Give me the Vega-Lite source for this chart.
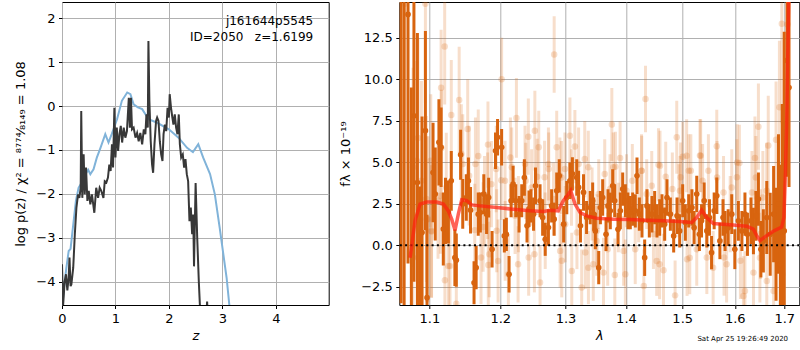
{
  "$schema": "https://vega.github.io/schema/vega-lite/v6.json",
  "background": "white",
  "padding": {"left": 14, "top": 1, "right": 0, "bottom": 0},
  "spacing": 70.3,
  "bounds": "flush",
  "config": {
    "font": "DejaVu Sans",
    "view": {"stroke": "black", "strokeWidth": 1},
    "axis": {"labelFont": "DejaVu Sans", "labelFontSize": 13, "labelColor": "black", "tickColor": "black", "tickSize": 3.5, "labelPadding": 3.5, "domain": false, "gridColor": "#b0b0b0", "gridWidth": 1, "titleFont": "DejaVu Sans", "titleFontSize": 13, "titleFontWeight": "normal", "titleColor": "black", "labelFlush": false}
  },
  "datasets": {
    "prior": [
      {"z":0.00,"lp":-4.7},{"z":0.03,"lp":-4.2},{"z":0.08,"lp":-3.7},{"z":0.125,"lp":-3.30},{"z":0.16,"lp":-3.25},{"z":0.19,"lp":-2.92},{"z":0.26,"lp":-2.16},{"z":0.31,"lp":-1.86},{"z":0.37,"lp":-1.74},{"z":0.44,"lp":-1.55},{"z":0.49,"lp":-1.45},{"z":0.53,"lp":-1.55},{"z":0.59,"lp":-1.44},{"z":0.65,"lp":-1.18},{"z":0.72,"lp":-0.95},{"z":0.81,"lp":-0.64},{"z":0.87,"lp":-0.83},{"z":0.93,"lp":-0.64},{"z":1.03,"lp":-0.30},{"z":1.12,"lp":0.12},{"z":1.22,"lp":0.31},{"z":1.28,"lp":0.27},{"z":1.34,"lp":0.04},{"z":1.42,"lp":-0.03},{"z":1.50,"lp":-0.07},{"z":1.62,"lp":-0.30},{"z":1.78,"lp":-0.38},{"z":2.00,"lp":-0.53},{"z":2.18,"lp":-0.72},{"z":2.34,"lp":-0.95},{"z":2.45,"lp":-1.05},{"z":2.55,"lp":-0.87},{"z":2.64,"lp":-1.17},{"z":2.77,"lp":-1.55},{"z":2.86,"lp":-2.01},{"z":2.95,"lp":-2.77},{"z":3.01,"lp":-3.30},{"z":3.08,"lp":-3.91},{"z":3.13,"lp":-4.52},{"z":3.20,"lp":-5.1}
    ],
    "chi": [
      {"z":0.00,"lp":-3.60},{"z":0.02,"lp":-4.55},{"z":0.05,"lp":-4.00},{"z":0.075,"lp":-3.83},{"z":0.10,"lp":-4.20},{"z":0.125,"lp":-3.90},{"z":0.14,"lp":-3.45},{"z":0.16,"lp":-4.10},{"z":0.175,"lp":-4.06},{"z":0.21,"lp":-3.68},{"z":0.24,"lp":-2.92},{"z":0.27,"lp":-2.31},{"z":0.30,"lp":-2.01},{"z":0.325,"lp":-2.09},{"z":0.35,"lp":-1.86},{"z":0.36,"lp":-0.11},{"z":0.38,"lp":-2.09},{"z":0.405,"lp":-1.10},{"z":0.425,"lp":-2.01},{"z":0.45,"lp":-1.40},{"z":0.475,"lp":-2.16},{"z":0.50,"lp":-1.93},{"z":0.53,"lp":-2.24},{"z":0.56,"lp":-2.01},{"z":0.605,"lp":-2.43},{"z":0.64,"lp":-1.86},{"z":0.675,"lp":-2.09},{"z":0.705,"lp":-1.86},{"z":0.735,"lp":-1.93},{"z":0.775,"lp":-2.09},{"z":0.80,"lp":-1.71},{"z":0.83,"lp":-1.74},{"z":0.86,"lp":-1.63},{"z":0.885,"lp":-1.33},{"z":0.91,"lp":-1.48},{"z":0.935,"lp":-0.87},{"z":0.955,"lp":-1.40},{"z":0.98,"lp":-0.04},{"z":1.00,"lp":-1.17},{"z":1.025,"lp":-0.49},{"z":1.05,"lp":-1.02},{"z":1.075,"lp":-0.64},{"z":1.10,"lp":-0.45},{"z":1.125,"lp":-0.83},{"z":1.155,"lp":-0.49},{"z":1.185,"lp":-0.72},{"z":1.215,"lp":-0.57},{"z":1.25,"lp":0.19},{"z":1.27,"lp":-0.49},{"z":1.29,"lp":0.19},{"z":1.31,"lp":-0.53},{"z":1.34,"lp":-0.49},{"z":1.375,"lp":-0.72},{"z":1.405,"lp":-0.61},{"z":1.435,"lp":-0.80},{"z":1.465,"lp":-0.61},{"z":1.50,"lp":-0.87},{"z":1.53,"lp":-0.53},{"z":1.56,"lp":-0.64},{"z":1.58,"lp":-0.19},{"z":1.605,"lp":-0.49},{"z":1.617,"lp":1.48},{"z":1.635,"lp":0.12},{"z":1.66,"lp":-0.80},{"z":1.685,"lp":-1.33},{"z":1.705,"lp":-1.52},{"z":1.73,"lp":-0.87},{"z":1.76,"lp":-0.34},{"z":1.78,"lp":-0.26},{"z":1.805,"lp":-0.34},{"z":1.83,"lp":-0.80},{"z":1.855,"lp":-1.10},{"z":1.88,"lp":-1.25},{"z":1.90,"lp":-0.64},{"z":1.925,"lp":-0.42},{"z":1.95,"lp":-0.57},{"z":1.975,"lp":-0.04},{"z":2.00,"lp":-0.26},{"z":2.015,"lp":0.27},{"z":2.04,"lp":-0.04},{"z":2.065,"lp":-0.26},{"z":2.085,"lp":-0.42},{"z":2.11,"lp":-0.19},{"z":2.135,"lp":-0.49},{"z":2.16,"lp":-0.64},{"z":2.185,"lp":-0.19},{"z":2.205,"lp":-0.87},{"z":2.23,"lp":-1.17},{"z":2.26,"lp":-1.10},{"z":2.285,"lp":-1.40},{"z":2.31,"lp":-1.21},{"z":2.335,"lp":-1.55},{"z":2.36,"lp":-1.71},{"z":2.385,"lp":-2.62},{"z":2.41,"lp":-2.31},{"z":2.435,"lp":-2.92},{"z":2.455,"lp":-2.47},{"z":2.47,"lp":-3.65},{"z":2.50,"lp":-1.75},{"z":2.53,"lp":-3.0},{"z":2.56,"lp":-4.0},{"z":2.59,"lp":-4.8},{"z":2.70,"lp":-4.8},{"z":2.715,"lp":-4.45},{"z":2.73,"lp":-4.8}
    ],
    "dark": [
      {"l":1.0625,"f":16.5,"e":20},{"l":1.0665,"f":-5.0,"e":20},{"l":1.0716,"f":13.9,"e":15},{"l":1.0760,"f":-4.5,"e":14},{"l":1.0794,"f":7.8,"e":10},{"l":1.0840,"f":3.78,"e":9},{"l":1.0871,"f":-3.47,"e":7},{"l":1.0902,"f":0.76,"e":7},{"l":1.0947,"f":6.9,"e":6},{"l":1.0969,"f":-3.16,"e":5},
      {"l":1.105,"f":4.38,"e":3.0},{"l":1.108,"f":3.08,"e":2.8},{"l":1.113,"f":6.2,"e":2.6},{"l":1.116,"f":5.9,"e":2.4},{"l":1.119,"f":0.98,"e":2.2},{"l":1.122,"f":2.07,"e":2.0},{"l":1.126,"f":2.0,"e":1.9},{"l":1.130,"f":3.88,"e":1.8},{"l":1.135,"f":-0.75,"e":1.7},{"l":1.137,"f":-0.9,"e":1.6},{"l":1.143,"f":5.45,"e":1.5},{"l":1.146,"f":2.49,"e":1.5},{"l":1.151,"f":2.87,"e":1.4},{"l":1.154,"f":3.88,"e":1.4},{"l":1.157,"f":2.11,"e":1.4},{"l":1.162,"f":-2.26,"e":1.3},{"l":1.165,"f":-1.35,"e":1.3},{"l":1.168,"f":1.87,"e":1.3},{"l":1.171,"f":1.97,"e":1.2},{"l":1.176,"f":3.08,"e":1.2},{"l":1.180,"f":1.87,"e":1.2},{"l":1.183,"f":2.87,"e":1.2},{"l":1.188,"f":-0.24,"e":1.1},{"l":1.193,"f":5.69,"e":1.1},{"l":1.196,"f":6.5,"e":1.1},
      {"l":1.202,"f":5.9,"e":1.1},{"l":1.206,"f":0.56,"e":1.0},{"l":1.209,"f":0.65,"e":1.0},{"l":1.213,"f":-1.75,"e":1.1},{"l":1.216,"f":2.68,"e":1.0},{"l":1.219,"f":3.68,"e":1.1},{"l":1.223,"f":2.68,"e":1.0},{"l":1.228,"f":1.87,"e":1.1},{"l":1.232,"f":2.68,"e":1.0},{"l":1.236,"f":4.08,"e":1.1},{"l":1.240,"f":1.17,"e":1.0},{"l":1.243,"f":2.2,"e":1.1},{"l":1.246,"f":2.37,"e":1.0},{"l":1.250,"f":1.87,"e":1.0},{"l":1.253,"f":3.58,"e":1.1},{"l":1.260,"f":2.68,"e":1.0},{"l":1.264,"f":1.67,"e":1.1},{"l":1.268,"f":0.36,"e":1.0},{"l":1.273,"f":1.07,"e":1.1},{"l":1.278,"f":2.37,"e":1.0},{"l":1.282,"f":1.57,"e":1.0},{"l":1.286,"f":3.28,"e":1.1},{"l":1.290,"f":4.18,"e":1.0},{"l":1.297,"f":1.27,"e":1.1},{"l":1.302,"f":2.87,"e":1.0},{"l":1.307,"f":3.88,"e":1.1},{"l":1.311,"f":4.3,"e":1.0},{"l":1.318,"f":4.08,"e":1.1},{"l":1.321,"f":3.48,"e":1.0},{"l":1.324,"f":1.17,"e":1.0},{"l":1.329,"f":3.18,"e":1.1},{"l":1.334,"f":1.67,"e":1.0},{"l":1.340,"f":2.27,"e":1.0},{"l":1.344,"f":2.68,"e":1.1},
      {"l":1.3456,"f":1.87,"e":1.0},{"l":1.3484,"f":0.86,"e":1.1},{"l":1.354,"f":-1.35,"e":1.0},{"l":1.3568,"f":2.27,"e":1.0},{"l":1.3606,"f":2.87,"e":1.1},{"l":1.3662,"f":0.66,"e":1.0},{"l":1.3695,"f":2.37,"e":1.0},{"l":1.3734,"f":2.07,"e":1.1},{"l":1.3774,"f":3.58,"e":1.0},{"l":1.3808,"f":2.68,"e":1.0},{"l":1.3864,"f":0.96,"e":1.0},{"l":1.3904,"f":2.07,"e":1.1},{"l":1.3944,"f":3.38,"e":1.0},{"l":1.399,"f":2.68,"e":1.0},{"l":1.4035,"f":2.07,"e":1.1},{"l":1.4075,"f":1.97,"e":1.0},{"l":1.4116,"f":2.17,"e":1.0},{"l":1.4162,"f":2.07,"e":1.0},{"l":1.4191,"f":4.18,"e":1.1},{"l":1.4232,"f":1.87,"e":1.0},{"l":1.4278,"f":1.47,"e":1.0},{"l":1.4325,"f":-0.75,"e":1.1},{"l":1.4366,"f":2.37,"e":1.0},{"l":1.4407,"f":1.47,"e":1.0},{"l":1.4454,"f":1.87,"e":1.1},{"l":1.4502,"f":2.27,"e":1.0},{"l":1.4543,"f":1.47,"e":1.0},{"l":1.4591,"f":1.67,"e":1.1},{"l":1.4633,"f":2.07,"e":1.0},{"l":1.4681,"f":1.27,"e":1.0},{"l":1.4723,"f":2.87,"e":1.1},{"l":1.4784,"f":1.87,"e":1.0},{"l":1.4844,"f":0.56,"e":1.0},{"l":1.4905,"f":1.77,"e":1.1},{"l":1.4954,"f":0.86,"e":1.0},{"l":1.5009,"f":2.68,"e":1.0},{"l":1.5058,"f":1.37,"e":1.1},{"l":1.512,"f":2.07,"e":1.0},
      {"l":1.518,"f":2.27,"e":1.1},{"l":1.522,"f":1.06,"e":1.0},{"l":1.527,"f":3.08,"e":1.1},{"l":1.532,"f":0.66,"e":1.0},{"l":1.536,"f":1.47,"e":1.0},{"l":1.541,"f":2.68,"e":1.1},{"l":1.546,"f":0.86,"e":1.0},{"l":1.551,"f":1.67,"e":1.1},{"l":1.555,"f":-0.45,"e":1.0},{"l":1.560,"f":2.07,"e":1.1},{"l":1.565,"f":2.98,"e":1.1},{"l":1.571,"f":0.26,"e":1.1},{"l":1.577,"f":1.67,"e":1.1},{"l":1.581,"f":0.86,"e":1.2},{"l":1.587,"f":1.06,"e":1.1},{"l":1.594,"f":1.87,"e":1.2},{"l":1.600,"f":-0.24,"e":1.2},{"l":1.607,"f":1.47,"e":1.2},{"l":1.614,"f":0.86,"e":1.2},{"l":1.620,"f":1.87,"e":1.3},{"l":1.625,"f":0.66,"e":1.3},{"l":1.632,"f":1.47,"e":1.4},{"l":1.637,"f":0.86,"e":1.4},{"l":1.642,"f":1.77,"e":1.5},{"l":1.647,"f":2.78,"e":1.6},{"l":1.652,"f":-0.24,"e":1.7},{"l":1.657,"f":0.26,"e":1.9},{"l":1.664,"f":1.67,"e":2.2},{"l":1.671,"f":0.66,"e":2.5},{"l":1.678,"f":1.87,"e":2.9},{"l":1.683,"f":0.06,"e":3.4},{"l":1.688,"f":2.48,"e":4.2},{"l":1.692,"f":-1.15,"e":6},{"l":1.696,"f":0.5,"e":8},{"l":1.700,"f":0.86,"e":12},{"l":1.706,"f":11.13,"e":7},{"l":1.710,"f":9.5,"e":6}
    ],
    "light": [
      {"l":1.0672,"f":14.55,"e":7},{"l":1.0947,"f":14.55,"e":6},{"l":1.1209,"f":11.97,"e":3.5},{"l":1.116,"f":9.48,"e":3.5},{"l":1.141,"f":8.75,"e":3.2},{"l":1.130,"f":7.85,"e":3.3},{"l":1.153,"f":7.0,"e":3},{"l":1.0848,"f":6.46,"e":6},{"l":1.0782,"f":4.69,"e":6},{"l":1.1019,"f":5.09,"e":4},{"l":1.1165,"f":5.86,"e":3.5},{"l":1.146,"f":4.89,"e":3},{"l":1.168,"f":5.37,"e":2.8},{"l":1.182,"f":6.06,"e":2.6},{"l":1.194,"f":4.59,"e":2.6},{"l":1.0983,"f":1.57,"e":5},{"l":1.1027,"f":0.87,"e":4},{"l":1.126,"f":-1.25,"e":3.3},{"l":1.1212,"f":-2.11,"e":3.3},{"l":1.137,"f":-3.52,"e":3},{"l":1.163,"f":0.91,"e":2.8},{"l":1.172,"f":-0.74,"e":2.8},{"l":1.1825,"f":-1.19,"e":2.6},{"l":1.184,"f":-0.54,"e":2.6},{"l":1.155,"f":4.19,"e":3},{"l":1.187,"f":3.68,"e":2.6},{"l":1.177,"f":2.68,"e":2.7},{"l":1.1231,"f":3.48,"e":3.3},{"l":1.096,"f":2.78,"e":5},{"l":1.0893,"f":3.89,"e":6},{"l":1.1118,"f":2.68,"e":3.5},{"l":1.144,"f":5.49,"e":3},{"l":1.078,"f":-0.74,"e":7},
      {"l":1.0965,"f":1.57,"e":5},{"l":1.103,"f":0.82,"e":4},{"l":1.115,"f":2.98,"e":3.5},{"l":1.164,"f":4.89,"e":2.8},{"l":1.175,"f":1.1,"e":2.7},{"l":1.1815,"f":2.98,"e":2.6},{"l":1.1282,"f":-1.25,"e":3.2},{"l":1.0832,"f":5.09,"e":6},{"l":1.1968,"f":-0.95,"e":2.5},
      {"l":1.202,"f":10.0,"e":2.5},{"l":1.282,"f":11.49,"e":2.3},{"l":1.224,"f":7.67,"e":2.4},{"l":1.242,"f":6.54,"e":2.3},{"l":1.252,"f":6.9,"e":2.4},{"l":1.258,"f":5.9,"e":2.2},{"l":1.307,"f":6.6,"e":2.3},{"l":1.315,"f":5.94,"e":2.2},{"l":1.331,"f":5.19,"e":2.3},{"l":1.286,"f":5.9,"e":2.2},{"l":1.217,"f":4.69,"e":2.4},{"l":1.237,"f":4.89,"e":2.3},{"l":1.273,"f":4.89,"e":2.2},{"l":1.291,"f":4.19,"e":2.3},{"l":1.267,"f":4.09,"e":2.2},{"l":1.207,"f":3.89,"e":2.4},{"l":1.247,"f":3.48,"e":2.3},{"l":1.299,"f":4.59,"e":2.2},{"l":1.227,"f":1.87,"e":2.3},{"l":1.281,"f":2.78,"e":2.2},{"l":1.2995,"f":1.27,"e":2.3},{"l":1.343,"f":2.48,"e":2.2},{"l":1.1947,"f":0.87,"e":2.5},{"l":1.2072,"f":0.26,"e":2.4},{"l":1.2425,"f":-0.74,"e":2.3},{"l":1.294,"f":-0.94,"e":2.2},{"l":1.310,"f":-1.55,"e":2.3},{"l":1.2265,"f":-1.15,"e":2.3},{"l":1.260,"f":-2.25,"e":2.2},{"l":1.326,"f":-2.55,"e":2.3},{"l":1.337,"f":-1.35,"e":2.2},{"l":1.332,"f":-0.44,"e":2.2},{"l":1.268,"f":0.87,"e":2.3},{"l":1.212,"f":-1.75,"e":2.4},
      {"l":1.2015,"f":3.92,"e":2.4},{"l":1.215,"f":5.29,"e":2.4},{"l":1.222,"f":1.77,"e":2.3},{"l":1.238,"f":3.88,"e":2.3},{"l":1.2555,"f":4.12,"e":2.3},{"l":1.2735,"f":4.59,"e":2.2},{"l":1.2935,"f":4.08,"e":2.2},{"l":1.3095,"f":3.48,"e":2.3},{"l":1.321,"f":4.89,"e":2.2},{"l":1.2513,"f":-0.54,"e":2.3},{"l":1.2914,"f":-0.34,"e":2.2},{"l":1.3183,"f":0.76,"e":2.2},
      {"l":1.434,"f":8.81,"e":2.0},{"l":1.376,"f":7.27,"e":2.2},{"l":1.490,"f":6.5,"e":2.2},{"l":1.501,"f":5.33,"e":2.1},{"l":1.390,"f":5.25,"e":2.2},{"l":1.382,"f":4.73,"e":2.1},{"l":1.457,"f":4.85,"e":2.2},{"l":1.470,"f":4.13,"e":2.1},{"l":1.427,"f":4.49,"e":2.2},{"l":1.364,"f":4.29,"e":2.1},{"l":1.411,"f":3.89,"e":2.2},{"l":1.445,"f":3.58,"e":2.1},{"l":1.482,"f":3.38,"e":2.2},{"l":1.354,"f":3.08,"e":2.1},{"l":1.401,"f":3.28,"e":2.2},{"l":1.497,"f":4.09,"e":2.1},{"l":1.512,"f":4.49,"e":2.2},{"l":1.345,"f":-1.15,"e":2.2},{"l":1.362,"f":-1.65,"e":2.1},{"l":1.381,"f":-1.79,"e":2.2},{"l":1.399,"f":-1.75,"e":2.1},{"l":1.431,"f":-2.45,"e":2.2},{"l":1.459,"f":-1.15,"e":2.1},{"l":1.466,"f":-1.51,"e":2.2},{"l":1.487,"f":-3.02,"e":2.1},{"l":1.509,"f":-0.85,"e":2.2},{"l":1.416,"f":-0.24,"e":2.1},{"l":1.369,"f":-0.24,"e":2.2},{"l":1.448,"f":0.67,"e":2.1},{"l":1.351,"f":0.87,"e":2.2},{"l":1.387,"f":1.67,"e":2.1},{"l":1.494,"f":2.68,"e":2.2},{"l":1.422,"f":2.28,"e":2.1},
      {"l":1.3368,"f":4.69,"e":2.2},{"l":1.3784,"f":4.69,"e":2.1},{"l":1.4273,"f":4.49,"e":2.1},{"l":1.4597,"f":4.79,"e":2.1},{"l":1.5082,"f":5.39,"e":2.2},{"l":1.5344,"f":5.39,"e":2.2},{"l":1.3507,"f":0.26,"e":2.1},{"l":1.396,"f":-0.34,"e":2.1},{"l":1.4538,"f":-0.95,"e":2.1},{"l":1.514,"f":-0.75,"e":2.2},{"l":1.4959,"f":3.28,"e":2.1},{"l":1.4361,"f":3.08,"e":2.1},{"l":1.3729,"f":3.38,"e":2.1},
      {"l":1.695,"f":13.34,"e":6},{"l":1.707,"f":13.3,"e":6},{"l":1.647,"f":7.14,"e":2.6},{"l":1.683,"f":6.36,"e":3.5},{"l":1.667,"f":6.0,"e":3},{"l":1.565,"f":5.96,"e":2.2},{"l":1.640,"f":5.25,"e":2.5},{"l":1.533,"f":5.4,"e":2.2},{"l":1.609,"f":4.95,"e":2.3},{"l":1.516,"f":4.49,"e":2.2},{"l":1.549,"f":4.49,"e":2.2},{"l":1.604,"f":4.09,"e":2.3},{"l":1.634,"f":3.18,"e":2.5},{"l":1.594,"f":3.48,"e":2.3},{"l":1.538,"f":3.89,"e":2.2},{"l":1.578,"f":3.18,"e":2.2},{"l":1.656,"f":2.88,"e":2.8},{"l":1.690,"f":8.31,"e":4},{"l":1.546,"f":-0.74,"e":2.2},{"l":1.558,"f":-1.35,"e":2.2},{"l":1.579,"f":-0.74,"e":2.3},{"l":1.617,"f":-3.06,"e":2.4},{"l":1.620,"f":-2.76,"e":2.4},{"l":1.611,"f":-0.94,"e":2.3},{"l":1.637,"f":-1.65,"e":2.5},{"l":1.664,"f":-2.15,"e":2.9},{"l":1.678,"f":-2.76,"e":3.3},{"l":1.696,"f":-1.75,"e":5},{"l":1.527,"f":-0.24,"e":2.2},{"l":1.651,"f":0.67,"e":2.7},{"l":1.591,"f":1.87,"e":2.3},
      {"l":1.5655,"f":4.08,"e":2.2},{"l":1.6045,"f":4.99,"e":2.3},{"l":1.6418,"f":4.08,"e":2.5},{"l":1.6638,"f":3.28,"e":2.9},{"l":1.584,"f":-1.15,"e":2.3},{"l":1.650,"f":-0.75,"e":2.7},{"l":1.692,"f":-0.34,"e":4.5}
    ],
    "model": [
      {"l":1.0743,"f":-0.75},{"l":1.0809,"f":1.47},{"l":1.0875,"f":2.48},{"l":1.0965,"f":2.6},{"l":1.110,"f":2.6},{"l":1.1191,"f":2.48},{"l":1.1259,"f":2.07},{"l":1.1306,"f":1.57},{"l":1.1352,"f":0.9},{"l":1.1398,"f":1.87},{"l":1.1446,"f":2.74},{"l":1.1516,"f":2.68},{"l":1.1587,"f":2.43},{"l":1.1706,"f":2.37},{"l":1.1948,"f":2.27},{"l":1.2193,"f":2.17},{"l":1.2446,"f":2.07},{"l":1.265,"f":2.03},{"l":1.2755,"f":2.11},{"l":1.2885,"f":2.07},{"l":1.2964,"f":2.68},{"l":1.3028,"f":2.98},{"l":1.3083,"f":3.28},{"l":1.3152,"f":2.48},{"l":1.3233,"f":1.97},{"l":1.3342,"f":1.77},{"l":1.3507,"f":1.63},{"l":1.3784,"f":1.57},{"l":1.407,"f":1.55},{"l":1.4361,"f":1.51},{"l":1.4656,"f":1.47},{"l":1.4959,"f":1.43},{"l":1.5176,"f":1.37},{"l":1.527,"f":1.67},{"l":1.5363,"f":2.11},{"l":1.5458,"f":1.67},{"l":1.5583,"f":1.31},{"l":1.5906,"f":1.23},{"l":1.6235,"f":1.15},{"l":1.6367,"f":0.97},{"l":1.6435,"f":0.58},{"l":1.6502,"f":0.28},{"l":1.6638,"f":0.58},{"l":1.6773,"f":0.84},{"l":1.6947,"f":1.09},{"l":1.6994,"f":1.67},{"l":1.7022,"f":4.08},{"l":1.7051,"f":7.3},{"l":1.71,"f":16}
    ]
  },
  "hconcat": [
    {
      "width": 266.7,
      "height": 303,
      "layer": [
        {
          "data": {"name": "prior"},
          "mark": {"type": "line", "color": "#80b3d9", "strokeWidth": 2, "clip": true},
          "encoding": {
            "x": {"field": "z", "type": "quantitative", "title": "z", "scale": {"domain": [0, 4.99], "nice": false, "zero": false}, "axis": {"values": [0, 1, 2, 3, 4], "titleFontStyle": "italic", "titlePadding": 4}},
            "y": {"field": "lp", "type": "quantitative", "title": "log p(z) / χ² = ⁸⁷⁷⁴⁄₈₁₄₉ = 1.08", "scale": {"domain": [-4.53, 2.37], "nice": false, "zero": false}, "axis": {"values": [-4, -3, -2, -1, 0, 1, 2], "labelExpr": "replace(datum.label, '-', '−')", "titlePadding": 8}}
          }
        },
        {
          "data": {"name": "chi"},
          "mark": {"type": "line", "color": "#383838", "strokeWidth": 2, "clip": true},
          "encoding": {
            "x": {"field": "z", "type": "quantitative", "title": "z"},
            "y": {"field": "lp", "type": "quantitative", "title": "log p(z) / χ² = ⁸⁷⁷⁴⁄₈₁₄₉ = 1.08"}
          }
        },
        {
          "data": {"values": [{}]},
          "mark": {"type": "text", "align": "right", "baseline": "alphabetic", "fontSize": 12, "font": "DejaVu Sans", "color": "black"},
          "encoding": {
            "x": {"datum": 4.70, "type": "quantitative", "title": "z"},
            "y": {"datum": 1.85, "type": "quantitative", "title": "log p(z) / χ² = ⁸⁷⁷⁴⁄₈₁₄₉ = 1.08"},
            "text": {"value": "j161644p5545"}
          }
        },
        {
          "data": {"values": [{}]},
          "mark": {"type": "text", "align": "right", "baseline": "alphabetic", "fontSize": 12, "font": "DejaVu Sans", "color": "black"},
          "encoding": {
            "x": {"datum": 4.70, "type": "quantitative", "title": "z"},
            "y": {"datum": 1.48, "type": "quantitative", "title": "log p(z) / χ² = ⁸⁷⁷⁴⁄₈₁₄₉ = 1.08"},
            "text": {"value": "ID=2050\u00a0\u00a0\u00a0z=1.6199"}
          }
        }
      ]
    },
    {
      "width": 400,
      "height": 303,
      "layer": [
        {
          "data": {"name": "light"},
          "mark": {"type": "errorbar", "color": "#dc6a14", "opacity": 0.22, "thickness": 3, "clip": true},
          "encoding": {
            "x": {"field": "l", "type": "quantitative", "title": "λ", "scale": {"type": "log", "domain": [1.0602, 1.7317], "nice": false}, "axis": {"values": [1.1, 1.2, 1.3, 1.4, 1.5, 1.6, 1.7], "format": ".1f", "titleFontStyle": "italic", "titlePadding": 4}},
            "y": {"field": "f", "type": "quantitative", "title": "fλ × 10⁻¹⁹", "scale": {"domain": [-3.6, 14.65], "nice": false, "zero": false}, "axis": {"values": [-2.5, 0, 2.5, 5, 7.5, 10, 12.5], "format": ".1f", "labelExpr": "replace(datum.label, '-', '−')", "titlePadding": 8}},
            "yError": {"field": "e"}
          }
        },
        {
          "data": {"name": "light"},
          "mark": {"type": "point", "filled": true, "size": 42, "color": "#dc6a14", "opacity": 0.22, "clip": true},
          "encoding": {
            "x": {"field": "l", "type": "quantitative", "title": "λ"},
            "y": {"field": "f", "type": "quantitative", "title": "fλ × 10⁻¹⁹"}
          }
        },
        {
          "data": {"name": "dark"},
          "mark": {"type": "errorbar", "color": "#d8640f", "thickness": 3, "clip": true},
          "encoding": {
            "x": {"field": "l", "type": "quantitative", "title": "λ"},
            "y": {"field": "f", "type": "quantitative", "title": "fλ × 10⁻¹⁹"},
            "yError": {"field": "e"}
          }
        },
        {
          "data": {"name": "dark"},
          "mark": {"type": "point", "filled": true, "size": 32, "color": "#d8640f", "opacity": 1, "clip": true},
          "encoding": {
            "x": {"field": "l", "type": "quantitative", "title": "λ"},
            "y": {"field": "f", "type": "quantitative", "title": "fλ × 10⁻¹⁹"}
          }
        },
        {
          "data": {"values": [{}]},
          "mark": {"type": "rule", "color": "black", "strokeWidth": 2, "strokeDash": [2, 3.3]},
          "encoding": {"y": {"datum": 0, "type": "quantitative", "title": "fλ × 10⁻¹⁹"}}
        },
        {
          "data": {"name": "model"},
          "mark": {"type": "line", "color": "#ff2010", "opacity": 0.7, "strokeWidth": 3.5, "clip": true},
          "encoding": {
            "x": {"field": "l", "type": "quantitative", "title": "λ"},
            "y": {"field": "f", "type": "quantitative", "title": "fλ × 10⁻¹⁹"}
          }
        },
        {
          "data": {"values": [{}]},
          "mark": {"type": "text", "align": "right", "baseline": "middle", "fontSize": 7, "font": "DejaVu Sans", "color": "black"},
          "encoding": {
            "x": {"datum": 1.708, "type": "quantitative", "title": "λ"},
            "y": {"datum": -5.66, "type": "quantitative", "title": "fλ × 10⁻¹⁹"},
            "text": {"value": "Sat Apr 25 19:26:49 2020"}
          }
        }
      ]
    }
  ]
}
